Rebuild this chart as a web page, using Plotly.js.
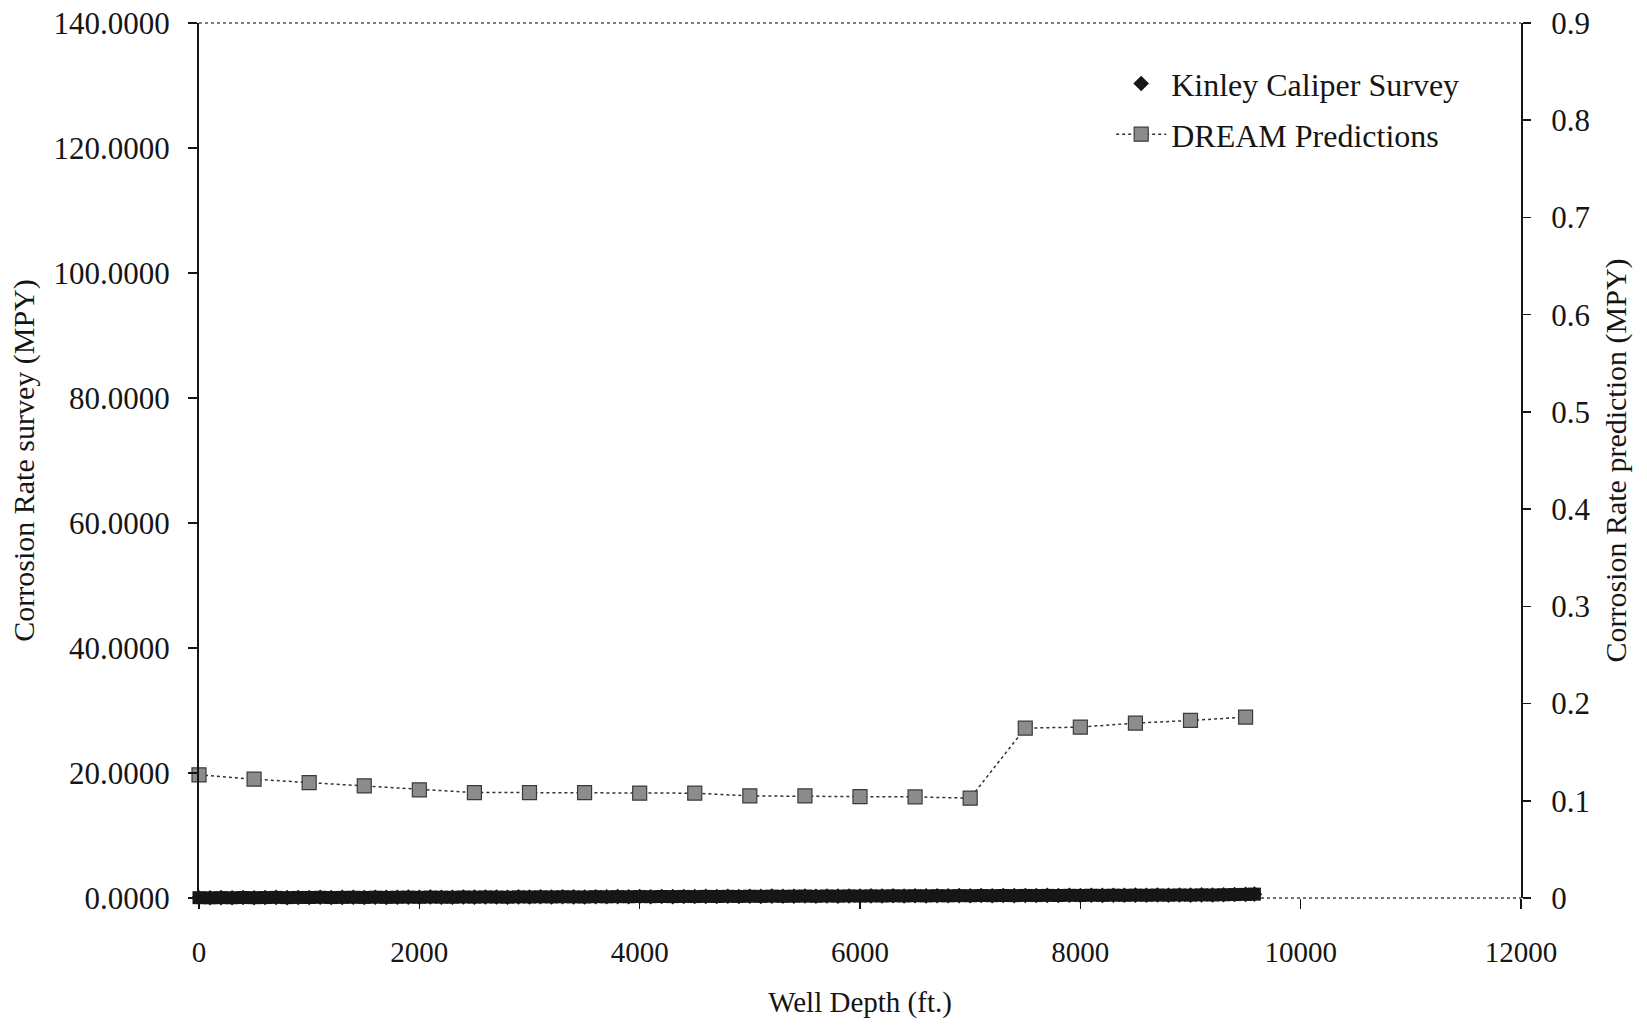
<!DOCTYPE html>
<html>
<head>
<meta charset="utf-8">
<script src="https://cdn.plot.ly/plotly-3.0.1.min.js"></script>
<style>html,body{margin:0;padding:0;background:#fff;}#chart{width:1647px;height:1028px;}</style>
</head>
<body>
<div id="chart"></div>
<script>
// DREAM Predictions (right axis, MPY)
const dreamDepth = [0, 500, 1000, 1500, 2000, 2500, 3000, 3500, 4000, 4500, 5000, 5500, 6000, 6500, 7000, 7500, 8000, 8500, 9000, 9500];
const dreamRate = [0.1267, 0.1222, 0.1187, 0.1153, 0.1112, 0.1084, 0.1084, 0.1084, 0.1078, 0.1078, 0.1050, 0.1050, 0.1043, 0.1040, 0.1027, 0.1747, 0.1758, 0.1799, 0.1826, 0.1861];

// Kinley Caliper Survey (left axis, MPY)
const kinleyDepth = [
  0, 100, 200, 300, 400, 500, 600, 700, 800, 900,
  1000, 1100, 1200, 1300, 1400, 1500, 1600, 1700, 1800, 1900,
  2000, 2100, 2200, 2300, 2400, 2500, 2600, 2700, 2800, 2900,
  3000, 3100, 3200, 3300, 3400, 3500, 3600, 3700, 3800, 3900,
  4000, 4100, 4200, 4300, 4400, 4500, 4600, 4700, 4800, 4900,
  5000, 5100, 5200, 5300, 5400, 5500, 5600, 5700, 5800, 5900,
  6000, 6100, 6200, 6300, 6400, 6500, 6600, 6700, 6800, 6900,
  7000, 7100, 7200, 7300, 7400, 7500, 7600, 7700, 7800, 7900,
  8000, 8100, 8200, 8300, 8400, 8500, 8600, 8700, 8800, 8900,
  9000, 9100, 9200, 9300, 9400, 9500, 9580
];
const kinleyRate = [
  0.05, 0.03, 0.06, 0.04, 0.08, 0.05, 0.07, 0.10, 0.06, 0.09,
  0.08, 0.11, 0.07, 0.10, 0.12, 0.09, 0.13, 0.10, 0.12, 0.14,
  0.11, 0.15, 0.13, 0.12, 0.16, 0.14, 0.17, 0.15, 0.13, 0.18,
  0.16, 0.19, 0.17, 0.20, 0.18, 0.16, 0.21, 0.19, 0.22, 0.20,
  0.23, 0.21, 0.24, 0.22, 0.25, 0.23, 0.26, 0.24, 0.27, 0.25,
  0.28, 0.26, 0.30, 0.27, 0.29, 0.31, 0.28, 0.32, 0.30, 0.33,
  0.31, 0.34, 0.32, 0.35, 0.33, 0.36, 0.34, 0.37, 0.35, 0.38,
  0.36, 0.39, 0.37, 0.40, 0.38, 0.41, 0.39, 0.42, 0.40, 0.43,
  0.41, 0.44, 0.42, 0.45, 0.43, 0.46, 0.44, 0.47, 0.45, 0.48,
  0.46, 0.50, 0.48, 0.52, 0.55, 0.58, 0.62
];

const xTicks = [0, 2000, 4000, 6000, 8000, 10000, 12000];

const FONT = 'Liberation Serif, Times New Roman, serif';
const INK = '#151515';

const traces = [
  {
    // dense overlapping survey markers form a solid band
    x: kinleyDepth, y: kinleyRate, yaxis: 'y',
    name: 'Kinley band', type: 'scatter', mode: 'markers',
    marker: {symbol: 'square', size: 13, color: '#161616', line: {width: 0}},
    cliponaxis: false, showlegend: false, hoverinfo: 'skip'
  },
  {
    x: kinleyDepth, y: kinleyRate, yaxis: 'y',
    name: 'Kinley Caliper Survey', type: 'scatter', mode: 'markers',
    legendgroup: 'k', cliponaxis: false,
    marker: {symbol: 'diamond', size: 12, color: '#161616', line: {width: 0}}
  },
  {
    x: dreamDepth, y: dreamRate, yaxis: 'y2',
    name: 'DREAM Predictions', type: 'scatter', mode: 'lines+markers',
    legendgroup: 'd', cliponaxis: false,
    line: {color: '#333', width: 1.5, dash: 'dot'},
    marker: {symbol: 'square', size: 14, color: '#8c8c8c', line: {color: '#3a3a3a', width: 1.2}}
  }
];

const layout = {
  width: 1647, height: 1028,
  margin: {l: 199, r: 126, t: 23, b: 130},
  paper_bgcolor: '#fff', plot_bgcolor: '#fff',
  font: {family: FONT, size: 30, color: INK},
  showlegend: true,
  legend: {
    x: 0.69, y: 0.962, xanchor: 'left', yanchor: 'top',
    bgcolor: 'rgba(0,0,0,0)', borderwidth: 0,
    font: {family: FONT, size: 32, color: INK},
    itemwidth: 50, traceorder: 'grouped', tracegroupgap: 6
  },
  xaxis: {
    range: [0, 12000], tickvals: xTicks, ticktext: xTicks.map(String),
    ticks: 'outside', ticklen: 10, tickwidth: 1.5, tickcolor: INK,
    showgrid: false, zeroline: false, showline: false,
    tickfont: {family: FONT, size: 29, color: INK},
    ticklabelstandoff: 18,
    title: {text: 'Well Depth (ft.)', font: {family: FONT, size: 29, color: INK}, standoff: 24}
  },
  yaxis: {
    range: [0, 140], dtick: 20, tick0: 0, tickformat: '.4f',
    ticks: 'outside', ticklen: 9, tickwidth: 1.5, tickcolor: INK,
    showgrid: false, zeroline: false,
    showline: true, linewidth: 2, linecolor: INK,
    tickfont: {family: FONT, size: 31, color: INK},
    ticklabelstandoff: 12,
    title: {text: 'Corrosion Rate survey (MPY)', font: {family: FONT, size: 30, color: INK}, standoff: 10}
  },
  yaxis2: {
    overlaying: 'y', side: 'right',
    range: [0, 0.9], dtick: 0.1, tick0: 0,
    ticks: 'outside', ticklen: 8, tickwidth: 1.5, tickcolor: INK,
    showgrid: false, zeroline: false,
    showline: true, linewidth: 2, linecolor: INK,
    tickfont: {family: FONT, size: 31, color: INK},
    ticklabelstandoff: 14,
    title: {text: 'Corrosion Rate prediction (MPY)', font: {family: FONT, size: 30, color: INK}, standoff: 16}
  },
  shapes: [
    {type: 'line', xref: 'paper', yref: 'paper', x0: 0, x1: 1, y0: 1, y1: 1,
     line: {color: '#555', width: 1.5, dash: 'dot'}},
    {type: 'line', xref: 'paper', yref: 'paper', x0: 0, x1: 1, y0: 0, y1: 0,
     line: {color: '#444', width: 1.5, dash: 'dot'}, layer: 'below'}
  ]
};

Plotly.newPlot('chart', traces, layout, {displayModeBar: false, staticPlot: true});
</script>
</body>
</html>
